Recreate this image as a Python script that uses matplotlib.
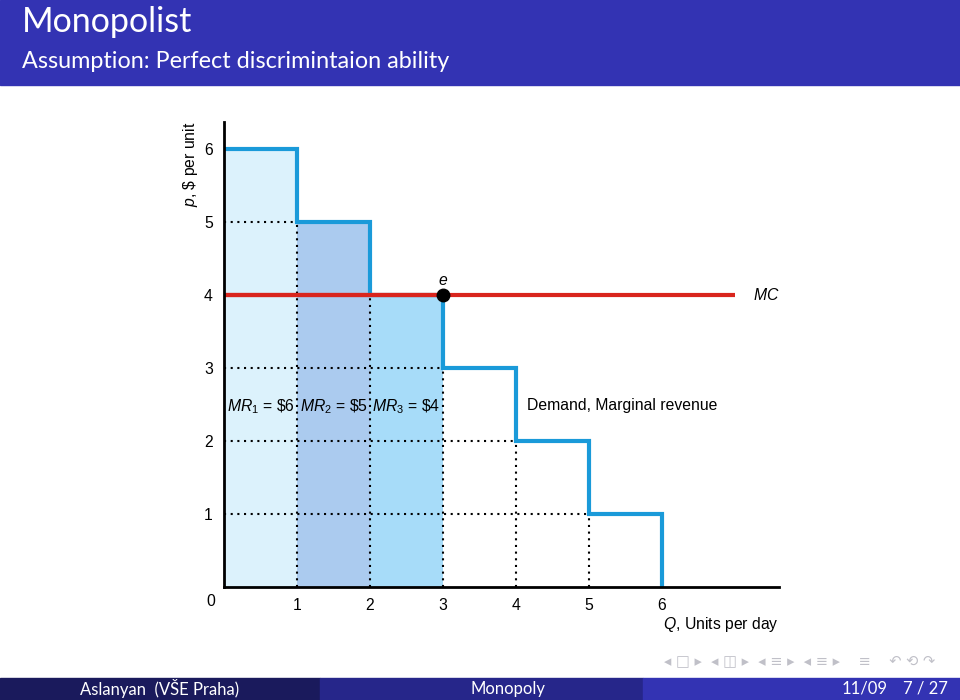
import numpy as np
import matplotlib
matplotlib.use('Agg')
from matplotlib import pyplot as plt
from matplotlib.patches import Rectangle

# demand / marginal revenue steps (price of the q-th unit)
units = [1, 2, 3, 4, 5, 6]
prices = [6, 5, 4, 3, 2, 1]
mc = 4
xticks = [1, 2, 3, 4, 5, 6]
yticks = [1, 2, 3, 4, 5, 6]
mr_labels = ['$MR_1$ = \\$6', '$MR_2$ = \\$5', '$MR_3$ = \\$4']
fill_colors = ['#dcf2fc', '#abcbef', '#a7dcf9']

plt.rcParams['font.family'] = ['Liberation Sans', 'DejaVu Sans']
plt.rcParams['mathtext.fontset'] = 'custom'
plt.rcParams['mathtext.rm'] = 'Liberation Sans'
plt.rcParams['mathtext.it'] = 'Liberation Sans:italic'

fig = plt.figure(figsize=(9.6, 7), dpi=100)
fs = 11.3

# slide frame: header, footer
fig.patches.append(Rectangle((0, 1 - 85/700), 1, 85/700, transform=fig.transFigure, color='#3333b3', zorder=0))
fig.patches.append(Rectangle((0, 0), 320/960, 22/700, transform=fig.transFigure, color='#1a1a5c', zorder=0))
fig.patches.append(Rectangle((320/960, 0), 323/960, 22/700, transform=fig.transFigure, color='#26268a', zorder=0))
fig.patches.append(Rectangle((643/960, 0), 317/960, 22/700, transform=fig.transFigure, color='#3333b3', zorder=0))
hdr = ['Lato', 'DejaVu Sans']
fig.text(22/960, 1 - 22/700, 'Monopolist', color='white', fontsize=24.5, va='center', family=hdr)
fig.text(22/960, 1 - 62/700, 'Assumption: Perfect discrimintaion ability', color='white', fontsize=16.8, va='center', family=hdr)
fig.text(160/960, 11/700, 'Aslanyan  (VŠE Praha)', color='white', fontsize=12, ha='center', va='center', family=hdr)
fig.text(508/960, 11/700, 'Monopoly', color='white', fontsize=12, ha='center', va='center', family=hdr)
fig.text(865/960, 11/700, '11/09', color='white', fontsize=12, ha='center', va='center', family=hdr)
fig.text(925/960, 11/700, '7 / 27', color='white', fontsize=12, ha='center', va='center', family=hdr)
fig.text(800/960, 39/700, '◂ □ ▸  ◂ ◫ ▸  ◂ ≡ ▸  ◂ ≡ ▸    ≡    ↶ ⟲ ↷', color='#c0c0c8',
         fontsize=10.5, ha='center', va='center', family=['DejaVu Sans'])

ax = fig.add_axes([224/960, 113/700, 555/960, 465/700])
ax.set_xlim(0, 555/73)
ax.set_ylim(0, 465/73)

# shaded consumer-by-consumer revenue blocks up to the MC point
for i in range(3):
    ax.add_patch(Rectangle((units[i] - 1, 0), 1, prices[i], facecolor=fill_colors[i], edgecolor='none', zorder=1))

# dotted guides
for q, p in zip(units[:-1], prices[1:]):
    ax.plot([0, q], [p, p], ls=(0, (1, 2.2)), color='black', lw=1.5, zorder=2)
    ax.plot([q, q], [0, p], ls=(0, (1, 2.2)), color='black', lw=1.5, zorder=2)

# MC line
ax.plot([0, 7.0], [mc, mc], color='#d9251d', lw=3, zorder=3, solid_capstyle='butt')

# demand step line
xs, ys = [0], [prices[0]]
for q, p in zip(units, prices):
    xs += [q - 1, q]
    ys += [p, p]
xs.append(units[-1])
ys.append(0)
ax.plot(xs, ys, color='#1a9ad9', lw=3, zorder=4, solid_joinstyle='miter')
ax.plot([0, 3], [mc, mc], color='#d9251d', lw=3, zorder=5, solid_capstyle='butt')

ax.plot([3], [mc], 'o', color='black', ms=9, zorder=6)
ax.text(3, mc + 0.1, '$e$', fontsize=fs, ha='center', va='bottom')
ax.text(7.25, mc, '$MC$', fontsize=fs, ha='left', va='center')

for i, lab in enumerate(mr_labels):
    ax.text(units[i] - 0.5, 2.47, lab, fontsize=fs, ha='center', va='center', zorder=7)
ax.text(4.15, 2.48, 'Demand, Marginal revenue', fontsize=fs, ha='left', va='center')

ax.spines['top'].set_visible(False)
ax.spines['right'].set_visible(False)
ax.spines['left'].set_linewidth(2)
ax.spines['bottom'].set_linewidth(2)
ax.spines['left'].set_zorder(8)
ax.spines['bottom'].set_zorder(8)
ax.set_xticks(xticks)
ax.set_yticks(yticks)
ax.set_xticklabels([str(v) for v in xticks], fontsize=fs)
ax.set_yticklabels([str(v) for v in yticks], fontsize=fs)
ax.tick_params(length=0, pad=8)
ax.text(-13/73, -15/73, '0', fontsize=fs, ha='center', va='center')
ax.text(555/73, -38/73, '$Q$, Units per day', fontsize=fs, ha='right', va='center')
ax.text(-33/73, 465/73, '$p$, \\$ per unit', fontsize=fs, rotation=90, ha='center', va='top')

fig.savefig('out.png', dpi=100)
